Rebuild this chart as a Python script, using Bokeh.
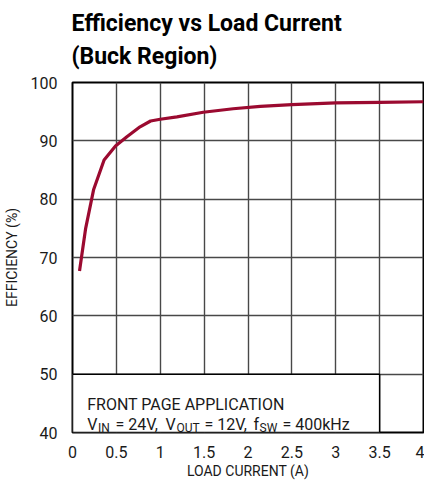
from bokeh.plotting import figure
from bokeh.models import Title, Label, Range1d, FixedTicker
from bokeh.embed import file_html
from bokeh.resources import INLINE

# Data
load_current = [0.08, 0.15, 0.24, 0.36, 0.49, 0.62, 0.77, 0.89, 1.0, 1.19, 1.49, 1.83, 2.14, 2.5, 3.0, 3.5, 4.0]
efficiency = [67.7, 75.0, 81.6, 86.7, 89.1, 90.7, 92.4, 93.4, 93.7, 94.1, 94.9, 95.5, 95.9, 96.2, 96.5, 96.6, 96.7]

x_ticks = [0, 0.5, 1, 1.5, 2, 2.5, 3, 3.5, 4]
x_tick_labels = ["0", "0.5", "1", "1.5", "2", "2.5", "3", "3.5", "4"]
y_ticks = [40, 50, 60, 70, 80, 90, 100]
title_lines = ["Efficiency vs Load Current", "(Buck Region)"]

FONT = "Roboto"
TXT = "#1a1a1a"

p = figure(frame_width=351, frame_height=350, output_backend="svg", toolbar_location=None,
           x_range=Range1d(0, 4), y_range=Range1d(40, 100),
           min_border_left=64, min_border_right=1, min_border_bottom=48, min_border_top=82)

# title: first line is the plot title (outermost), second line added closer to the frame
p.title.text = title_lines[0]
p.title.align = "left"
p.title.text_font = FONT
p.title.text_font_size = "23px"
p.title.text_font_style = "bold"
p.title.text_color = "black"
p.title.offset = -1
p.title.standoff = -18
t2 = Title(text=title_lines[1], align="left", text_font=FONT,
           text_font_size="23px", text_font_style="bold", text_color="black",
           offset=-1, standoff=26)
p.add_layout(t2, "above")

p.outline_line_color = "black"
p.outline_line_width = 2
p.background_fill_color = "white"
p.border_fill_color = "white"

for ax in (p.xaxis, p.yaxis):
    ax.axis_line_color = None
    ax.major_tick_line_color = None
    ax.minor_tick_line_color = None
    ax.major_label_text_font = FONT
    ax.major_label_text_font_size = "16px"
    ax.major_label_text_color = TXT
    ax.axis_label_text_font = FONT
    ax.axis_label_text_font_style = "normal"
    ax.axis_label_text_color = TXT

p.xaxis.ticker = FixedTicker(ticks=x_ticks)
p.xaxis.major_label_overrides = {t: l for t, l in zip(x_ticks, x_tick_labels)}
p.yaxis.ticker = FixedTicker(ticks=y_ticks)
p.xaxis.axis_label = "LOAD CURRENT (A)"
p.yaxis.axis_label = "EFFICIENCY (%)"
p.xaxis.axis_label_text_font_size = "14px"
p.yaxis.axis_label_text_font_size = "14px"
p.xaxis.major_label_standoff = 7
p.yaxis.major_label_standoff = 9
p.xaxis.axis_label_standoff = 2
p.yaxis.axis_label_standoff = 8

p.xgrid.ticker = FixedTicker(ticks=x_ticks)
p.ygrid.ticker = FixedTicker(ticks=y_ticks)
for g in (p.xgrid, p.ygrid):
    g.grid_line_color = "#484848"
    g.grid_line_width = 1.4

# annotation box (covers grid)
p.quad(left=[0], right=[3.5], bottom=[40], top=[50], fill_color="white",
       line_color="black", line_width=1.5)

p.line(load_current, efficiency, line_color="#9b0a30", line_width=3.2)

# box text
p.add_layout(Label(x=0, y=44.76, x_offset=14.7, text="FRONT PAGE APPLICATION",
                   text_font=FONT, text_font_size="16px", text_color=TXT,
                   text_baseline="alphabetic"))
main_base = 41.33
sub_base = 40.77
pieces = [
    ("V", 14.7, main_base, "16px"),
    ("IN", 25.5, sub_base, "12px"),
    ("= 24V,", 43.0, main_base, "16px"),
    ("V", 93.0, main_base, "16px"),
    ("OUT", 104.0, sub_base, "12px"),
    ("= 12V,", 132.0, main_base, "16px"),
    ("f", 181.0, main_base, "16px"),
    ("SW", 187.0, sub_base, "12px"),
    ("= 400kHz", 210.0, main_base, "16px"),
]
for txt, xo, yb, fs in pieces:
    p.add_layout(Label(x=0, y=yb, x_offset=xo, text=txt, text_font=FONT,
                       text_font_size=fs, text_color=TXT, text_baseline="alphabetic"))

open("out.html", "w").write(file_html(p, INLINE))
